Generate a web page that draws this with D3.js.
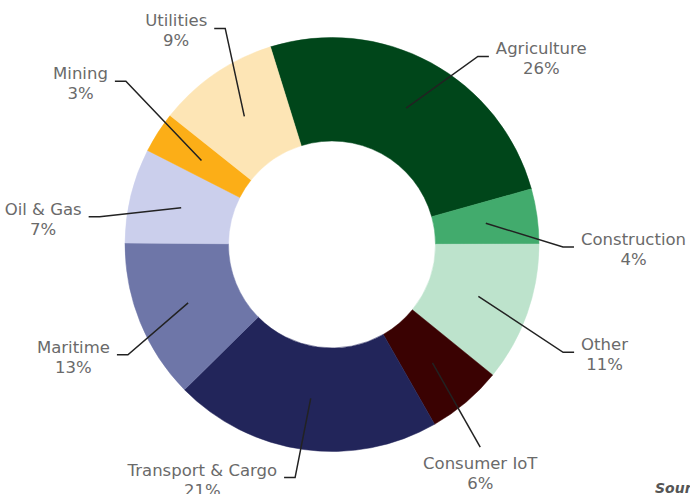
<html>
<head>
  <style>
    body {
      margin: 0px;
      padding: 0px;
      background-color: #ffffff;
      overflow: hidden;
    }

    svg {
      display: block;
    }

    .label {
      font-family: "DejaVu Sans", sans-serif;
      font-size: 16.5px;
      fill: #6a6a6a;
    }

    .leader {
      fill: none;
      stroke: #222222;
      stroke-width: 1.5px;
    }

    .source {
      font-family: "DejaVu Sans", sans-serif;
      font-size: 14px;
      font-style: italic;
      font-weight: bold;
      fill: #555555;
    }
  </style>
</head>

<body>
  <div id="chart"></div>
  <script src="https://cdnjs.cloudflare.com/ajax/libs/d3/7.8.5/d3.min.js"></script>
  <script>
    // data (clockwise, starting with Agriculture)
    var categories = ["Agriculture", "Construction", "Other", "Consumer IoT", "Transport & Cargo",
      "Maritime", "Oil & Gas", "Mining", "Utilities"];
    var shares = [25.5, 4.3, 10.9, 5.9, 20.9, 12.5, 7.4, 3.2, 9.5];
    var percentLabels = ["26%", "4%", "11%", "6%", "21%", "13%", "7%", "3%", "9%"];
    var colors = ["#00461a", "#42ab6d", "#bde3cc", "#3a0202", "#22255a",
      "#6e76a8", "#cbcfec", "#fcae17", "#fde5b5"];

    // where each label's leader line bends (angle in degrees from 12 o'clock, radius in px)
    var labelLayout = [
      { angle: 37.8, radius: 238, side: "right" },
      { angle: 90.6, radius: 231, side: "right" },
      { angle: 115.0, radius: 255, side: "right" },
      { angle: 143.8, radius: 251, side: "below" },
      { angle: 189.0, radius: 236, side: "left" },
      { angle: 241.6, radius: 232, side: "left" },
      { angle: 276.8, radius: 234, side: "left" },
      { angle: 308.4, radius: 263, side: "left" },
      { angle: 333.7, radius: 241, side: "left" }
    ];

    var width = 690,
      height = 494,
      cx = 332,
      cy = 244.5,
      outerR = 207,
      innerR = 103.5,
      legLength = 11,
      textGap = 7,
      lineHeight = 20;

    var startAngle = -17.3 * Math.PI / 180;

    var svg = d3.select("#chart").append("svg")
      .attr("width", width)
      .attr("height", height);

    var g = svg.append("g")
      .attr("transform", "translate(" + cx + "," + cy + ")");

    var pie = d3.pie()
      .sort(null)
      .value(function(d) { return d; })
      .startAngle(startAngle)
      .endAngle(startAngle + 2 * Math.PI);

    var arc = d3.arc()
      .innerRadius(innerR)
      .outerRadius(outerR);

    var arcs = pie(shares);

    g.selectAll("path.slice")
      .data(arcs)
      .enter()
      .append("path")
      .attr("class", "slice")
      .attr("d", arc)
      .attr("fill", function(d, i) { return colors[i]; })
      .attr("stroke", function(d, i) { return colors[i]; })
      .attr("stroke-width", 0.5);

    function polar(angleDeg, r) {
      var a = angleDeg * Math.PI / 180;
      return [r * Math.sin(a), -r * Math.cos(a)];
    }

    arcs.forEach(function(d, i) {
      var lay = labelLayout[i];
      var c = arc.centroid(d);
      var elbow = polar(lay.angle, lay.radius);
      var end = elbow.slice();
      if (lay.side === "left") end[0] -= legLength;
      if (lay.side === "right") end[0] += legLength;

      g.append("path")
        .attr("class", "leader")
        .attr("d", d3.line()([c, elbow, end]));

      var text = g.append("text")
        .attr("class", "label")
        .attr("text-anchor", "middle");
      var t1 = text.append("tspan").text(categories[i]);
      var t2 = text.append("tspan").text(percentLabels[i]);
      var w = Math.max(t1.node().getComputedTextLength(), t2.node().getComputedTextLength());

      var tx, ty;
      if (lay.side === "left") {
        tx = end[0] - textGap - w / 2;
        ty = end[1] - 2;
      } else if (lay.side === "right") {
        tx = end[0] + textGap + w / 2;
        ty = end[1] - 2;
      } else {
        tx = end[0];
        ty = end[1] + 22;
      }
      t1.attr("x", tx).attr("y", ty);
      t2.attr("x", tx).attr("y", ty + lineHeight);
    });

    svg.append("text")
      .attr("class", "source")
      .attr("x", 655)
      .attr("y", 493)
      .text("Source: Inmarsat");
  </script>
</body>
</html>
